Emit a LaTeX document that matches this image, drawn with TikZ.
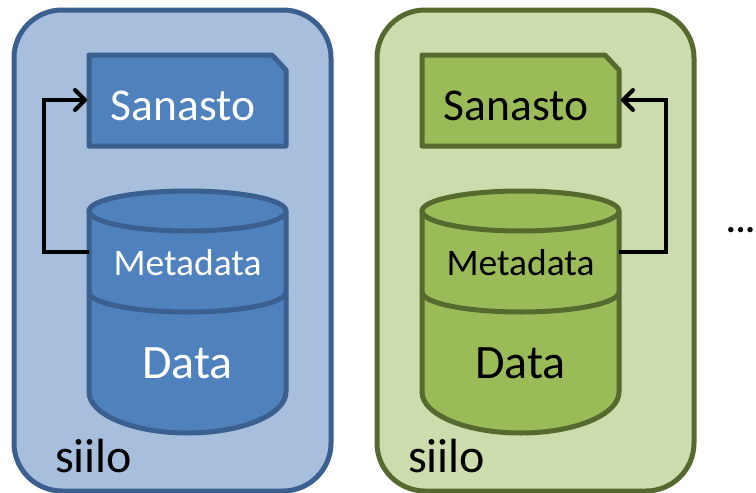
\documentclass[tikz,border=0pt]{standalone}
\usepackage{fontspec}
\setmainfont{Carlito}
\usetikzlibrary{arrows.meta}
\definecolor{blueD}{HTML}{3B5F8F}
\definecolor{blueM}{HTML}{4F81BD}
\definecolor{blueL}{HTML}{A7BFDD}
\definecolor{greenD}{HTML}{566A2F}
\definecolor{greenM}{HTML}{9BBB59}
\definecolor{greenL}{HTML}{CDDCAC}
\tikzset{
  silo/.style={line width=5pt,rounded corners=48pt,line join=round},
  part/.style={line width=5pt,line join=round},
  lbl/.style={inner sep=0pt,font=\fontsize{45.5}{45.5}\selectfont},
  dlbl/.style={inner sep=0pt,font=\fontsize{48}{48}\selectfont},
  slbl/.style={inner sep=0pt,font=\fontsize{48}{48}\selectfont},
  mlbl/.style={inner sep=0pt,font=\fontsize{37.5}{37.5}\selectfont},
  dotlbl/.style={inner sep=0pt,font=\fontsize{36}{36}\selectfont\bfseries},
  link/.style={line width=4pt,black,-{Straight Barb[length=10pt,width=20pt,line width=4pt,round]},line join=miter},
}
% #1 prefix, #2 dark, #3 mid, #4 light, #5 text colour, #6 box left edge, #7 siilo left edge
\newcommand{\siloblock}[7]{%
  \draw[silo,draw=#2,fill=#4] (#6,10) rectangle ++(317,481);
  \draw[part,draw=#2,fill=#3] (89,55) -- (272,55) -- (286,70) -- (286,146) -- (89,146) -- cycle;
  \coordinate (#1vocl) at (87,100);
  \coordinate (#1vocr) at (288,100);
  \node[lbl,text=#5] (#1sanasto) at (183,106) {Sanasto};
  \draw[part,draw=#2,fill=#3] (89,211) -- (89,392) arc[start angle=180,end angle=0,x radius=98.5,y radius=41] -- (286,211) -- cycle;
  \draw[part,draw=#2] (89,292) arc[start angle=180,end angle=0,x radius=98.5,y radius=20];
  \draw[part,draw=#2,fill=#3] (187.5,211) ellipse[x radius=98.5,y radius=20];
  \coordinate (#1mleft) at (89,252);
  \coordinate (#1mright) at (286,252);
  \node[mlbl,text=#5] (#1meta) at (187.5,263) {Metadata};
  \node[dlbl,text=#5] (#1data) at (187.5,363) {Data};
  \node[slbl,text=black,anchor=base west] (#1siilo) at (#7,472) {siilo};
}
\begin{document}
\begin{tikzpicture}[x=1pt,y=-1pt]
\useasboundingbox (0,0) rectangle (756,493);
\begin{scope}
  \siloblock{a}{blueD}{blueM}{blueL}{white}{14}{55}
\end{scope}
\begin{scope}[xshift=333pt]
  \siloblock{b}{greenD}{greenM}{greenL}{black}{44}{75}
\end{scope}
\coordinate (aturn) at (44,252);
\coordinate (bturn) at (666,252);
\draw[link] (amleft) -- (aturn) |- (avocl);
\draw[link] (bmright) -- (bturn) |- (bvocr);
\node[dotlbl,anchor=base west] (dots) at (726,232) {...};
\end{tikzpicture}
\end{document}
